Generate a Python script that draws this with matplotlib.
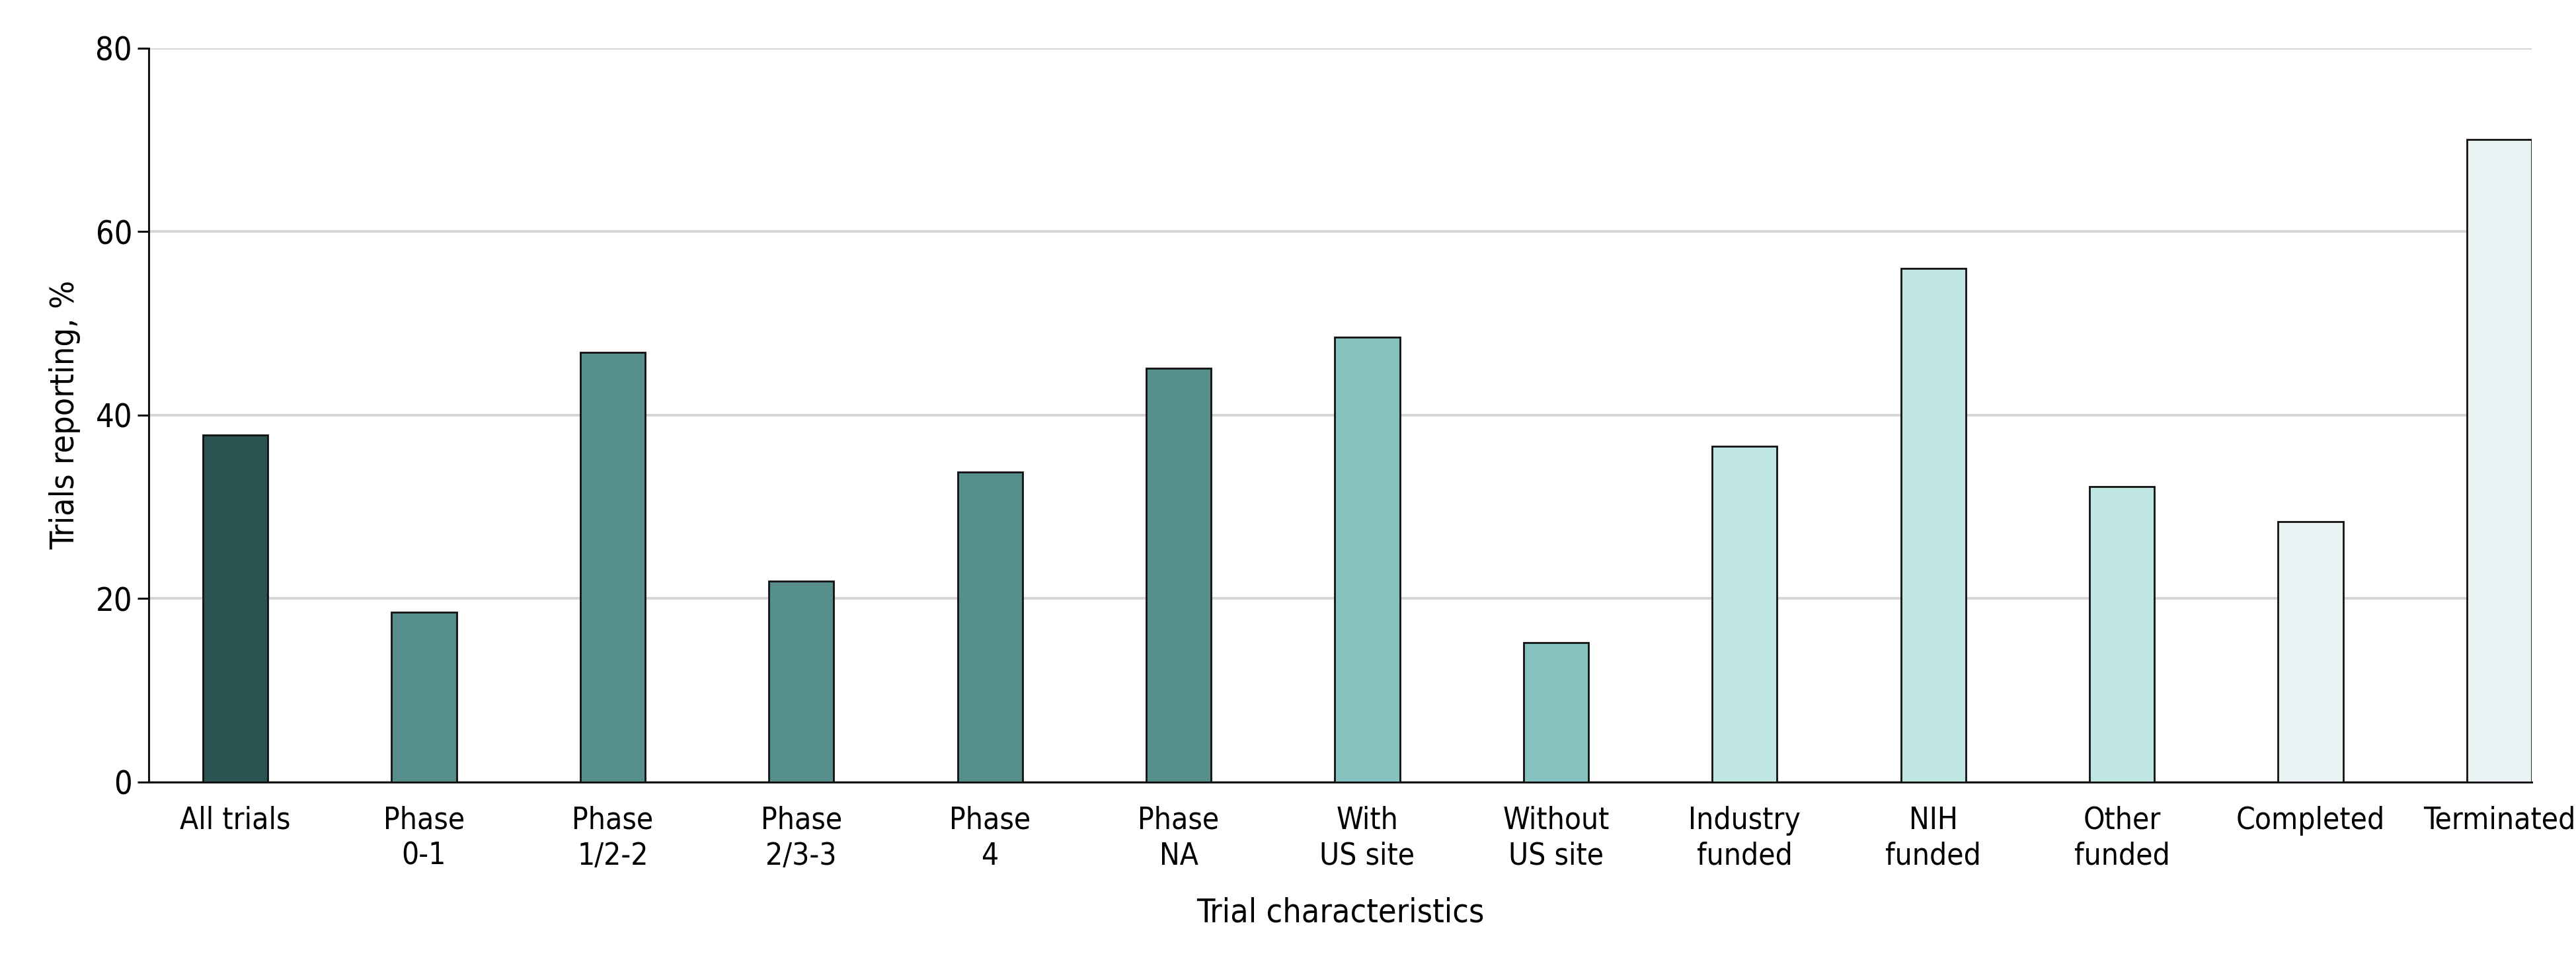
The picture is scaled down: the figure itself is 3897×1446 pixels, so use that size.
import matplotlib
matplotlib.use("Agg")
import matplotlib.pyplot as plt
import numpy as np

categories = ["All trials", "Phase\n0-1", "Phase\n1/2-2", "Phase\n2/3-3", "Phase\n4",
              "Phase\nNA", "With\nUS site", "Without\nUS site", "Industry\nfunded",
              "NIH\nfunded", "Other\nfunded", "Completed", "Terminated"]
values = [37.8, 18.5, 46.8, 21.9, 33.8, 45.1, 48.5, 15.2, 36.6, 56.0, 32.2, 28.4, 70.0]
groups = ["all", "phase", "phase", "phase", "phase", "phase", "site", "site",
          "fund", "fund", "fund", "status", "status"]
group_colors = {"all": "#2A5352", "phase": "#568E8B", "site": "#85C2C0",
                "fund": "#C0E6E4", "status": "#E9F3F3"}
yticks = [0, 20, 40, 60, 80]

plt.rcParams['font.family'] = ['DejaVu Sans']
plt.rcParams['font.stretch'] = 'condensed'

fig = plt.figure(figsize=(38.97, 14.46), dpi=100)
ax = fig.add_axes([225/3897, 1 - 1182.7/1446, (3830-225)/3897, (1182.7-72.7)/1446])

x = np.arange(len(categories))
colors = [group_colors[g] for g in groups]
ax.bar(x, values, width=0.344, color=colors, edgecolor="#111111", linewidth=2.0, zorder=3)

ax.set_xlim(-0.459, 12.172)
ax.set_ylim(0, 80)
ax.set_yticks(yticks)
ax.set_yticklabels([str(t) for t in yticks], fontsize=35, fontstretch='condensed')
ax.set_xticks(x)
ax.set_xticklabels(categories, fontsize=33, linespacing=1.25, fontstretch='condensed')
ax.tick_params(axis='x', length=0, pad=26)
ax.tick_params(axis='y', length=12, width=2.2, pad=6, color="#111111")

ax.yaxis.grid(True, color="#D6D6D6", linewidth=3.0, zorder=0)
ax.set_axisbelow(True)
for s in ["top", "right"]:
    ax.spines[s].set_visible(False)
for s in ["left", "bottom"]:
    ax.spines[s].set_linewidth(2.2)
    ax.spines[s].set_color("#111111")

ax.set_xlabel("Trial characteristics", fontsize=36, labelpad=28, fontstretch='condensed')
ax.set_ylabel("Trials reporting, %", fontsize=36, labelpad=16, fontstretch='condensed')

fig.savefig("out.png", dpi=100, facecolor="white")
